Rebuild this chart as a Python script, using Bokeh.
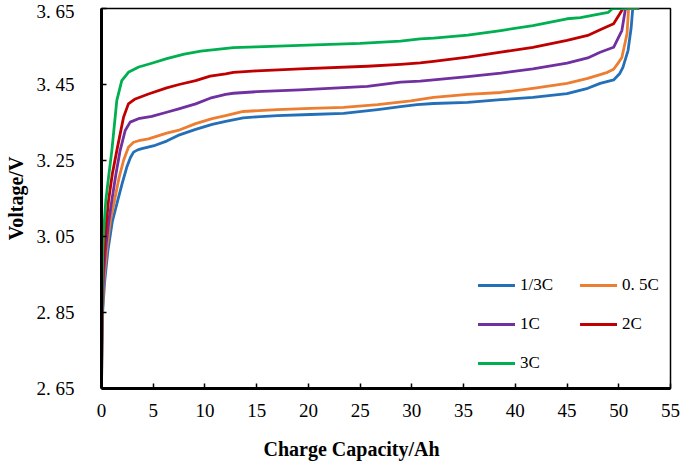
from bokeh.plotting import figure
from bokeh.models import (Range1d, FixedTicker, CustomJSTickFormatter, Legend,
                          LegendItem, Title)
from bokeh.embed import file_html
from bokeh.resources import INLINE

# ---------------- data ----------------
series_names = ["1/3C", "0. 5C", "1C", "2C", "3C"]
series_colors = ["#2470B8", "#ED7D31", "#7030A0", "#C00000", "#00B050"]

cap_13C = [0, 0.05, 0.12, 0.3, 0.62, 1.05, 1.57, 2.0, 2.44, 2.8, 3.1, 3.5, 3.9,
           5.2, 6.3, 7.4, 9.1, 10.7, 12.0, 13.7, 15.0, 17.0, 20.2, 23.4, 26.7,
           28.9, 30.5, 32.1, 35.4, 38.6, 41.7, 45.0, 47.0, 48.2, 49.5, 50.1,
           50.4, 50.9, 51.2, 51.35, 51.9]
volt_13C = [2.65, 2.76, 2.855, 2.93, 3.013, 3.09, 3.145, 3.19, 3.232, 3.258,
            3.272, 3.278, 3.281, 3.29, 3.301, 3.316, 3.332, 3.345, 3.353, 3.362,
            3.365, 3.368, 3.371, 3.374, 3.384, 3.392, 3.397, 3.400, 3.403, 3.41,
            3.416, 3.426, 3.44, 3.453, 3.462, 3.479, 3.495, 3.54, 3.60, 3.65, 3.65]

cap_05C = [0, 0.04, 0.09, 0.25, 0.5, 0.85, 1.26, 1.7, 2.13, 2.6, 3.1, 3.6, 4.54,
           6.3, 7.4, 9.1, 10.7, 12.0, 13.7, 17.0, 20.2, 23.4, 26.7, 29.9, 32.1,
           35.4, 38.6, 41.7, 45.0, 47.0, 48.2, 48.9, 49.5, 49.9, 50.3, 50.8,
           50.95, 51.8]
volt_05C = [2.65, 2.76, 2.855, 2.94, 3.013, 3.09, 3.145, 3.205, 3.25, 3.285,
            3.298, 3.302, 3.307, 3.322, 3.329, 3.347, 3.36, 3.368, 3.379, 3.384,
            3.387, 3.39, 3.397, 3.407, 3.416, 3.424, 3.429, 3.44, 3.453, 3.466,
            3.476, 3.482, 3.49, 3.505, 3.521, 3.584, 3.65, 3.65]

cap_1C = [0, 0.03, 0.07, 0.2, 0.38, 0.7, 1.0, 1.4, 1.8, 2.29, 2.77, 3.57, 4.86,
          6.3, 7.47, 9.1, 10.5, 12.0, 12.75, 15.0, 19.2, 25.7, 28.9, 30.8, 32.1,
          35.4, 38.6, 41.7, 45.0, 47.0, 48.2, 49.5, 50.3, 50.65, 51.8]
volt_1C = [2.65, 2.76, 2.86, 2.95, 3.013, 3.09, 3.145, 3.215, 3.276, 3.329,
           3.351, 3.36, 3.366, 3.377, 3.386, 3.399, 3.414, 3.424, 3.427, 3.431,
           3.436, 3.445, 3.456, 3.459, 3.462, 3.471, 3.48, 3.491, 3.506, 3.52,
           3.535, 3.548, 3.592, 3.65, 3.65]

cap_2C = [0, 0.02, 0.05, 0.12, 0.25, 0.45, 0.68, 1.05, 1.48, 2.13, 2.6, 3.26,
          4.54, 6.3, 7.5, 9.1, 10.5, 12.0, 12.75, 15.0, 19.2, 25.7, 28.9, 30.8,
          32.1, 35.4, 38.6, 41.7, 45.0, 47.0, 48.2, 49.5, 50.1, 50.4, 51.8]
volt_2C = [2.65, 2.76, 2.87, 2.95, 3.013, 3.08, 3.145, 3.215, 3.276, 3.364,
           3.399, 3.412, 3.425, 3.441, 3.45, 3.46, 3.472, 3.478, 3.482, 3.486,
           3.491, 3.498, 3.503, 3.507, 3.511, 3.522, 3.535, 3.548, 3.566, 3.579,
           3.594, 3.61, 3.636, 3.65, 3.65]

cap_3C = [0, 0.02, 0.05, 0.12, 0.25, 0.42, 0.7, 1.0, 1.48, 1.96, 2.6, 3.6, 4.86,
          6.3, 8.0, 9.6, 12.75, 15.0, 19.2, 25.0, 28.9, 30.8, 32.1, 35.4, 38.6,
          41.7, 45.0, 46.3, 48.2, 49.0, 49.4, 51.8]
volt_3C = [2.65, 2.78, 2.9, 3.013, 3.08, 3.145, 3.21, 3.276, 3.408, 3.46, 3.482,
           3.496, 3.506, 3.518, 3.53, 3.538, 3.547, 3.549, 3.553, 3.558, 3.564,
           3.57, 3.572, 3.58, 3.592, 3.605, 3.623, 3.626, 3.636, 3.64, 3.65, 3.65]

x_ticks = [0, 5, 10, 15, 20, 25, 30, 35, 40, 45, 50, 55]
y_ticks = [2.65, 2.85, 3.05, 3.25, 3.45, 3.65]

x_title = "Charge Capacity/Ah"
y_title = "Voltage/V"

# ---------------- figure ----------------
FONT = "Liberation Serif"

p = figure(width=680, height=464, output_backend="svg", toolbar_location=None,
           x_range=Range1d(0, 55), y_range=Range1d(2.65, 3.65),
           min_border_left=101, min_border_right=10, min_border_top=8,
           min_border_bottom=76)
p.background_fill_color = "white"
p.border_fill_color = "white"
p.outline_line_color = "black"
p.outline_line_width = 1.5
p.xgrid.visible = False
p.ygrid.visible = False

xs = [cap_13C, cap_05C, cap_1C, cap_2C, cap_3C]
ys = [volt_13C, volt_05C, volt_1C, volt_2C, volt_3C]
renderers = []
for xv, yv, c in zip(xs, ys, series_colors):
    renderers.append(p.line(xv, yv, line_color=c, line_width=2.8,
                            line_join="round", line_cap="round"))

fmt = CustomJSTickFormatter(code="return tick.toFixed(2).replace('.', '. ');")

for ax in (p.xaxis[0], p.yaxis[0]):
    ax.axis_line_color = "black"
    ax.axis_line_width = 3
    ax.major_tick_line_color = "black"
    ax.major_tick_line_width = 1.5
    ax.major_tick_in = 5
    ax.major_tick_out = 0
    ax.minor_tick_line_color = None
    ax.major_label_text_font = FONT
    ax.major_label_text_font_size = "19px"
    ax.major_label_text_color = "black"

p.xaxis[0].ticker = FixedTicker(ticks=x_ticks)
p.xaxis[0].major_label_standoff = 15
p.yaxis[0].ticker = FixedTicker(ticks=y_ticks)
p.yaxis[0].formatter = fmt
p.yaxis[0].major_label_standoff = 27
p.yaxis[0].axis_label = y_title
p.yaxis[0].axis_label_text_font = FONT
p.yaxis[0].axis_label_text_font_style = "bold"
p.yaxis[0].axis_label_text_font_size = "20px"
p.yaxis[0].axis_label_text_color = "black"
p.yaxis[0].axis_label_standoff = 7

# small spacer panel between tick labels and the x title
spacer = Title(text=" ", text_font=FONT, text_font_size="1px", standoff=13)
p.add_layout(spacer, "below")
xt = Title(text=x_title, align="left", offset=162, text_font=FONT,
           text_font_style="bold", text_font_size="20px", text_color="black",
           standoff=0)
p.add_layout(xt, "below")

# legend: two columns
def make_legend(idx, loc):
    leg = Legend(items=[LegendItem(label=series_names[i], renderers=[renderers[i]])
                        for i in idx],
                 location=loc, orientation="vertical",
                 glyph_width=37, glyph_height=20, label_height=20, spacing=19,
                 label_standoff=5, padding=0, margin=0,
                 border_line_alpha=0, background_fill_alpha=0,
                 label_text_font=FONT, label_text_font_size="17px",
                 label_text_color="black")
    return leg

p.add_layout(make_legend([0, 2, 4], (377, 15)), "center")
p.add_layout(make_legend([1, 3], (479, 54)), "center")

open("out.html", "w").write(file_html(p, INLINE))
